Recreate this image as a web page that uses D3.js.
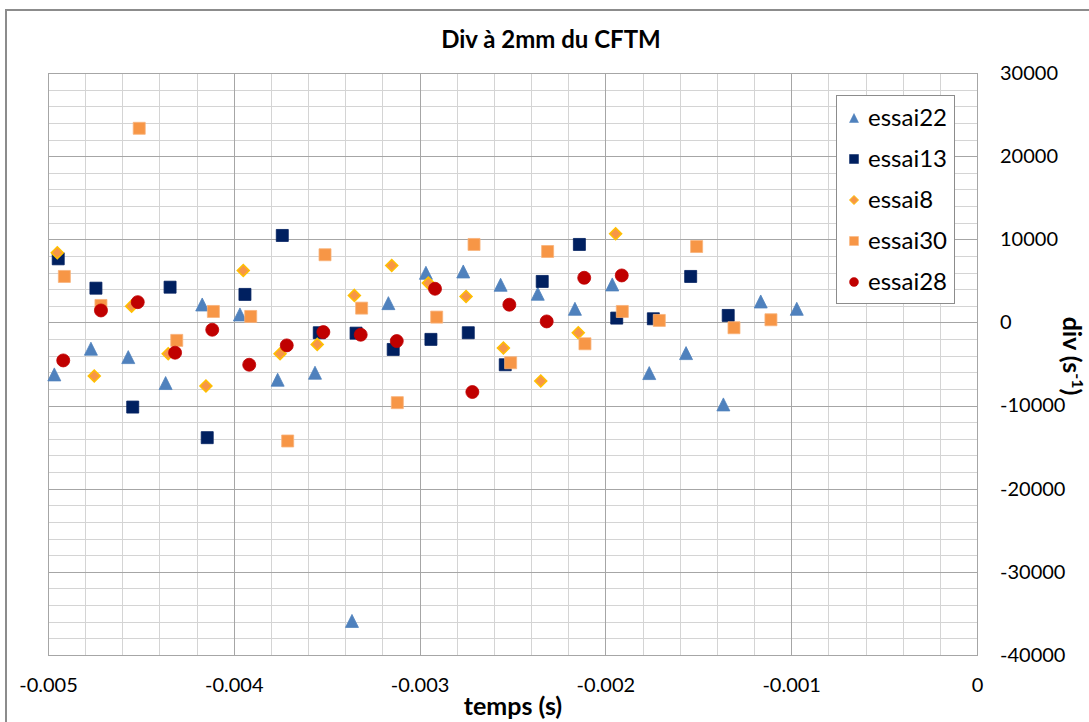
<!DOCTYPE html>
<html>
<head>
<meta charset="utf-8">
<script src="https://cdn.jsdelivr.net/npm/d3@7/dist/d3.min.js"></script>
<style>
  html, body { margin: 0; padding: 0; background: #fff; }
  svg { display: block; font-family: Lato, "Open Sans", sans-serif; }
</style>
</head>
<body>
<svg id="chart" width="1089" height="722"></svg>
<script>
// ---- data ----
const seriesNames = ["essai22", "essai13", "essai8", "essai30", "essai28"];

const essai22X = [-0.004966, -0.004769, -0.004568, -0.004367, -0.004170, -0.003967, -0.003764, -0.003563, -0.003364, -0.003168, -0.002966, -0.002765, -0.002564, -0.002364, -0.002164, -0.001963, -0.001764, -0.001566, -0.001365, -0.001164, -0.000970];
const essai22Y = [-6250, -3160, -4170, -7290, 2160, 960, -6890, -6050, -35900, 2320, 5970, 6130, 4530, 3450, 1640, 4570, -6090, -3690, -9860, 2520, 1640];

const essai13X = [-0.004945, -0.004742, -0.004544, -0.004343, -0.004143, -0.003940, -0.003739, -0.003540, -0.003342, -0.003142, -0.002939, -0.002738, -0.002539, -0.002340, -0.002140, -0.001939, -0.001742, -0.001541, -0.001339];
const essai13Y = [7650, 4120, -10180, 4240, -13860, 3370, 10460, -1240, -1290, -3250, -2040, -1240, -5090, 4930, 9380, 520, 440, 5530, 840];

const essai8X = [-0.004950, -0.004751, -0.004550, -0.004353, -0.004150, -0.003949, -0.003751, -0.003551, -0.003351, -0.003150, -0.002953, -0.002750, -0.002549, -0.002348, -0.002146, -0.001945];
const essai8Y = [8380, -6450, 1960, -3770, -7650, 6250, -3770, -2640, 3250, 6850, 4730, 3120, -3080, -7050, -1240, 10660];

const essai30X = [-0.004912, -0.004715, -0.004509, -0.004307, -0.004110, -0.003909, -0.003710, -0.003509, -0.003312, -0.003120, -0.002908, -0.002707, -0.002510, -0.002311, -0.002110, -0.001909, -0.001710, -0.001509, -0.001308, -0.001109];
const essai30Y = [5530, 2040, 23350, -2160, 1320, 720, -14260, 8140, 1720, -9650, 640, 9380, -4850, 8530, -2570, 1320, 240, 9130, -640, 320];

const essai28X = [-0.004918, -0.004715, -0.004517, -0.004316, -0.004116, -0.003917, -0.003715, -0.003518, -0.003317, -0.003123, -0.002917, -0.002716, -0.002517, -0.002316, -0.002114, -0.001912];
const essai28Y = [-4570, 1440, 2440, -3640, -880, -5090, -2760, -1160, -1480, -2240, 4050, -8370, 2130, 120, 5370, 5650];

const xTickValues = [-0.005, -0.004, -0.003, -0.002, -0.001, 0];
const xTickLabels = ["-0.005", "-0.004", "-0.003", "-0.002", "-0.001", "0"];
const yTickValues = [30000, 20000, 10000, 0, -10000, -20000, -30000, -40000];
const yTickLabels = ["30000", "20000", "10000", "0", "-10000", "-20000", "-30000", "-40000"];

const titleText = "Div à 2mm du CFTM";
const xTitle = "temps (s)";

// ---- styles ----
const styles = {
  essai22: { shape: "triangle", fill: "#4F81BD", stroke: "#4F81BD" },
  essai13: { shape: "square", fill: "#002060", stroke: "#002060" },
  essai8:  { shape: "diamond", fill: "#F79646", stroke: "#FFC000" },
  essai30: { shape: "square", fill: "#F79646", stroke: "#F9B27A" },
  essai28: { shape: "circle", fill: "#C00000", stroke: "#C00000" }
};

const series = [
  { name: "essai22", xs: essai22X, ys: essai22Y },
  { name: "essai13", xs: essai13X, ys: essai13Y },
  { name: "essai8", xs: essai8X, ys: essai8Y },
  { name: "essai30", xs: essai30X, ys: essai30Y },
  { name: "essai28", xs: essai28X, ys: essai28Y }
];

const svg = d3.select("#chart");
const L = 48, R = 977, T = 73, B = 655;

const x = d3.scaleLinear().domain([-0.005, 0]).range([L, R]);
const y = d3.scaleLinear().domain([-40000, 30000]).range([B, T]);

// outer chart border
svg.append("rect").attr("x", 6).attr("y", 10).attr("width", 1200).attr("height", 900)
  .attr("fill", "#fff").attr("stroke", "#8c8c8c").attr("stroke-width", 2);

// grid
const minorX = d3.range(-0.005, 0.00001, 0.0002);
const minorY = d3.range(-40000, 30001, 2000);
const grid = svg.append("g");
grid.selectAll("line.mx").data(minorX).join("line")
  .attr("x1", d => Math.round(x(d)) + 0.5).attr("x2", d => Math.round(x(d)) + 0.5)
  .attr("y1", T).attr("y2", B).attr("stroke", "#d4d4d4").attr("stroke-width", 1);
grid.selectAll("line.my").data(minorY).join("line")
  .attr("y1", d => Math.round(y(d)) + 0.5).attr("y2", d => Math.round(y(d)) + 0.5)
  .attr("x1", L).attr("x2", R).attr("stroke", "#d4d4d4").attr("stroke-width", 1);
grid.selectAll("line.Mx").data(xTickValues).join("line")
  .attr("x1", d => Math.round(x(d)) + 0.5).attr("x2", d => Math.round(x(d)) + 0.5)
  .attr("y1", T).attr("y2", B).attr("stroke", "#a6a6a6").attr("stroke-width", 1);
grid.selectAll("line.My").data(yTickValues).join("line")
  .attr("y1", d => Math.round(y(d)) + 0.5).attr("y2", d => Math.round(y(d)) + 0.5)
  .attr("x1", L).attr("x2", R).attr("stroke", "#a6a6a6").attr("stroke-width", 1);
svg.append("rect").attr("x", L + 0.5).attr("y", T + 0.5).attr("width", R - L).attr("height", B - T)
  .attr("fill", "none").attr("stroke", "#a6a6a6");

// axes
const xAxis = d3.axisBottom(x).tickValues(xTickValues)
  .tickFormat((d, i) => xTickLabels[i]).tickSize(0).tickPadding(23);
const gx = svg.append("g").attr("transform", `translate(0,${B})`).call(xAxis);
gx.select(".domain").remove();
gx.selectAll("text").attr("font-size", 20).attr("fill", "#000").attr("font-family", "Lato, sans-serif");

const yAxis = d3.axisRight(y).tickValues(yTickValues)
  .tickFormat((d, i) => yTickLabels[i]).tickSize(0).tickPadding(23);
const gy = svg.append("g").attr("transform", `translate(${R},0)`).call(yAxis);
gy.select(".domain").remove();
gy.selectAll("text").attr("font-size", 20).attr("fill", "#000").attr("font-family", "Lato, sans-serif");

// titles
svg.append("text").attr("x", 551).attr("y", 48).attr("text-anchor", "middle")
  .attr("font-size", 24).attr("font-weight", "bold").text(titleText);
svg.append("text").attr("x", 513).attr("y", 715).attr("text-anchor", "middle")
  .attr("font-size", 25).attr("font-weight", "bold").text(xTitle);
const yt = svg.append("text").attr("transform", "translate(1063,356) rotate(90)")
  .attr("text-anchor", "middle").attr("font-size", 25).attr("font-weight", "bold");
yt.append("tspan").text("div (s");
yt.append("tspan").attr("font-size", 16).attr("dy", -9).text("-1");
yt.append("tspan").attr("dy", 9).text(")");

// marker shapes (centered on bounding box)
function shapePath(shape, s) {
  const h = s / 2;
  if (shape === "triangle") return `M0,${-h}L${h},${h}L${-h},${h}Z`;
  if (shape === "square") return `M${-h},${-h}H${h}V${h}H${-h}Z`;
  if (shape === "diamond") return `M0,${-h}L${h},0L0,${h}L${-h},0Z`;
  if (shape === "circle") return `M${h},0A${h},${h} 0 1,1 ${-h},0A${h},${h} 0 1,1 ${h},0Z`;
}
const markerSize = { triangle: 13, square: 12, diamond: 12, circle: 13 };

const marks = svg.append("g");
series.forEach(s => {
  const st = styles[s.name];
  const pts = s.xs.map((v, i) => [v, s.ys[i]]);
  marks.append("g").selectAll("path").data(pts).join("path")
    .attr("transform", d => `translate(${x(d[0])},${y(d[1])})`)
    .attr("d", shapePath(st.shape, markerSize[st.shape]))
    .attr("fill", st.fill).attr("stroke", st.stroke)
    .attr("stroke-width", st.shape === "diamond" ? 1.5 : 0.8);
});

// legend
const lg = svg.append("g");
lg.append("rect").attr("x", 836.5).attr("y", 95.5).attr("width", 118).attr("height", 208)
  .attr("fill", "#fff").attr("stroke", "#8c8c8c");
const legendY = d3.scalePoint().domain(seriesNames).range([118, 282]);
seriesNames.forEach(n => {
  const st = styles[n];
  lg.append("path").attr("transform", `translate(854,${legendY(n)})`)
    .attr("d", shapePath(st.shape, 9))
    .attr("fill", st.fill).attr("stroke", st.stroke).attr("stroke-width", st.shape === "diamond" ? 1 : 0.5);
  lg.append("text").attr("x", 868).attr("y", legendY(n) + 8).attr("font-size", 24)
    .attr("fill", "#000").text(n);
});
</script>
</body>
</html>
